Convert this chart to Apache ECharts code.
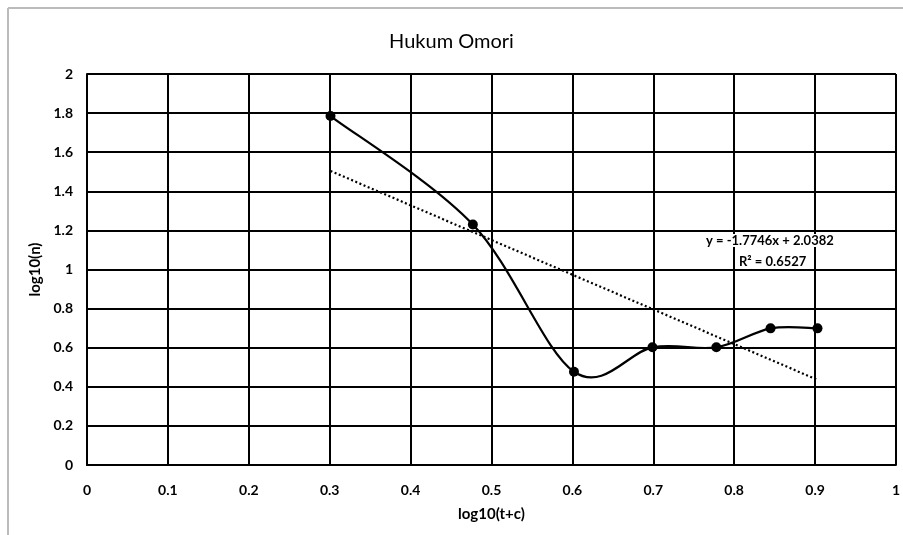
<!DOCTYPE html>
<html><head><meta charset="utf-8">
<script src="https://cdn.jsdelivr.net/npm/echarts@6/dist/echarts.min.js"></script>
<style>html,body{margin:0;padding:0;background:#fff}#c{width:903px;height:535px}</style>
</head><body><div id="c"></div>
<script>
const xValues = [0.301, 0.477, 0.602, 0.699, 0.778, 0.845, 0.903];
const yValues = [1.785, 1.230, 0.477, 0.602, 0.602, 0.699, 0.699];
const trendSlope = -1.7746;
const trendIntercept = 2.0382;
const trendLabel = ['y = -1.7746x + 2.0382', 'R\u00b2 = 0.6527'];
const titleText = 'Hukum Omori';
const xName = 'log10(t+c)';
const yName = 'log10(n)';

const pts = xValues.map((x, i) => [x, yValues[i]]);
const x0 = xValues[0], x1 = xValues[xValues.length - 1];
const trend = [[x0, trendIntercept + trendSlope * x0], [x1, trendIntercept + trendSlope * x1]];
const FONT = "Lato,'Open Sans',sans-serif";

// Excel-like Catmull-Rom smoothing drawn through the chart's coordinate system
function renderSmooth(params, api) {
  const i = params.dataIndex;
  if (i >= pts.length - 1) return null;
  const P = k => api.coord(pts[Math.max(0, Math.min(pts.length - 1, k))]);
  const p0 = P(i - 1), p1 = P(i), p2 = P(i + 1), p3 = P(i + 2);
  const t = 1 / 6;
  return {
    type: 'bezierCurve',
    shape: {
      x1: p1[0], y1: p1[1], x2: p2[0], y2: p2[1],
      cpx1: p1[0] + (p2[0] - p0[0]) * t, cpy1: p1[1] + (p2[1] - p0[1]) * t,
      cpx2: p2[0] - (p3[0] - p1[0]) * t, cpy2: p2[1] - (p3[1] - p1[1]) * t
    },
    style: { stroke: '#000', lineWidth: 2.2, fill: null }
  };
}

const chart = echarts.init(document.getElementById('c'));
chart.setOption({
  animation: false,
  backgroundColor: '#fff',
  title: { text: titleText, left: 'center', top: 27, textStyle: { fontFamily: FONT, fontSize: 20, fontWeight: 'normal', color: '#000' } },
  grid: { left: 87, right: 4, top: 74, bottom: 70 },
  xAxis: {
    type: 'value', min: 0, max: 1, interval: 0.1,
    name: xName, nameLocation: 'middle', nameGap: 42,
    nameTextStyle: { fontFamily: FONT, fontSize: 15, color: '#000', fontWeight: 'bold' },
    axisLine: { lineStyle: { color: '#000', width: 2 } },
    axisTick: { show: false },
    axisLabel: { fontFamily: FONT, fontSize: 14, color: '#000', margin: 18, fontWeight: 'bold' },
    splitLine: { show: true, lineStyle: { color: '#000', width: 2 } }
  },
  yAxis: {
    type: 'value', min: 0, max: 2, interval: 0.2,
    name: yName, nameLocation: 'middle', nameGap: 38, nameRotate: 90,
    nameTextStyle: { fontFamily: FONT, fontSize: 15, color: '#000', fontWeight: 'bold' },
    axisLine: { show: true, lineStyle: { color: '#000', width: 2 } },
    axisTick: { show: false },
    axisLabel: { fontFamily: FONT, fontSize: 14, color: '#000', margin: 14, fontWeight: 'bold' },
    splitLine: { show: true, lineStyle: { color: '#000', width: 2 } }
  },
  series: [
    {
      type: 'custom', data: pts, renderItem: renderSmooth, z: 3, silent: true
    },
    {
      type: 'scatter', data: pts, symbol: 'circle', symbolSize: 10,
      itemStyle: { color: '#000', opacity: 1 }, z: 4
    },
    {
      type: 'line', data: trend, symbol: 'none',
      lineStyle: { color: '#000', width: 2.2, type: [2, 2.5] }, z: 2
    }
  ],
  graphic: [
    { type: 'line', shape: { x1: 8, y1: 8, x2: 903, y2: 8 }, style: { stroke: '#bbb', lineWidth: 2 } },
    { type: 'line', shape: { x1: 8, y1: 8, x2: 8, y2: 535 }, style: { stroke: '#bbb', lineWidth: 2 } },
    { type: 'text', left: 706, top: 234, z: 10, style: { text: trendLabel[0], font: "bold 13px " + FONT, fill: '#000', backgroundColor: '#fff' } },
    { type: 'text', left: 739, top: 255, z: 10, style: { text: trendLabel[1], font: "bold 13px " + FONT, fill: '#000', backgroundColor: '#fff' } }
  ]
});
</script></body></html>
